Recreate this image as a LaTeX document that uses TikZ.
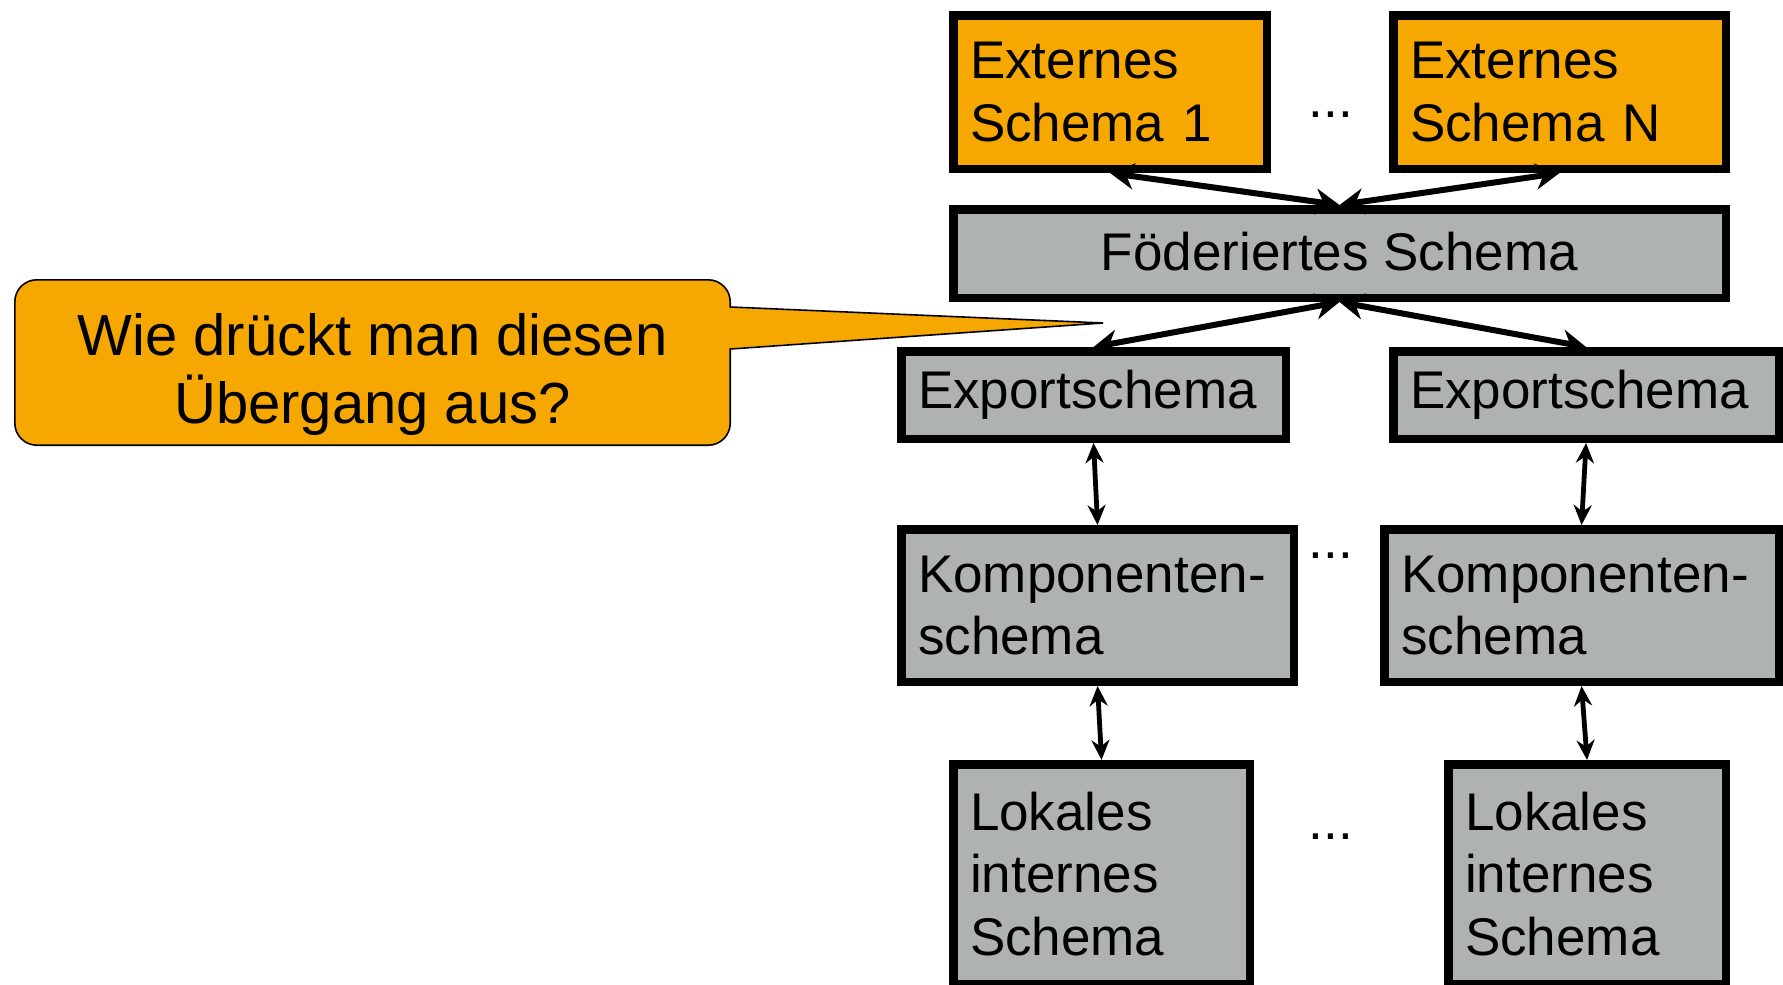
\documentclass[tikz,border=0pt]{standalone}
\usepackage{fontspec}
\setmainfont{Liberation Sans}
\usetikzlibrary{arrows.meta}

\definecolor{schemaorange}{RGB}{247,168,0}
\definecolor{schemagrau}{RGB}{174,179,178}
\newcommand{\schemafont}{\fontsize{26.5}{31.3}\selectfont}
\newcommand{\fragefont}{\fontsize{29}{34}\selectfont}

\begin{document}
\begin{tikzpicture}[
  x=0.5pt, y=-0.5pt,
  kastenbasis/.style={draw, line width=4.25pt, fill=schemagrau, anchor=north west, inner xsep=8.4pt, font=\schemafont},
  schemabox/.style={kastenbasis, align=left},
  extbox/.style={schemabox, fill=schemaorange},
  dotsnode/.style={anchor=base, font=\schemafont, inner sep=0pt},
  bubble/.style={draw, line width=0.8pt, fill=schemaorange, rounded corners=11pt, minimum width=357.7pt, minimum height=82.7pt},
  bubbletext/.style={align=center, font=\fragefont, inner sep=0pt},
  linkarrow/.style={line width=3pt, {Stealth[length=12pt,width=13pt]}-{Stealth[length=12pt,width=13pt]}},
  levelarrow/.style={line width=2.4pt, {Stealth[length=10pt,width=9pt]}-{Stealth[length=10pt,width=9pt]}}
]
\useasboundingbox (0,0) rectangle (1783,985);
\clip (0,0) rectangle (1783,985);

% externe Schemata
\node[extbox, minimum width=156.75pt, minimum height=76.75pt, text width=140pt] (ext1) at (949,11) {Externes\\Schema 1};
\node[extbox, minimum width=166.25pt, minimum height=76.75pt, text width=149.5pt] (extN) at (1389,11) {Externes\\Schema N};
\node[dotsnode] (dotsext) at (1331,117) {...};

% foederiertes Schema
\node[kastenbasis, minimum width=386.25pt, minimum height=44.25pt, text height=19pt, text depth=2.5pt] (fed) at (949,205) {Föderiertes Schema};

% Exportschemata
\node[schemabox, minimum width=192.25pt, minimum height=43.75pt, text width=175.5pt] (exp1) at (897,347) {Exportschema};
\node[schemabox, minimum width=192.75pt, minimum height=43.75pt, text width=176pt] (exp2) at (1389,347) {Exportschema};

% Komponentenschemata
\node[schemabox, minimum width=196.25pt, minimum height=76.25pt, text width=179.5pt] (komp1) at (897,525) {Komponenten-\\schema};
\node[schemabox, minimum width=197.25pt, minimum height=76.25pt, text width=180.5pt] (komp2) at (1380,525) {Komponenten-\\schema};
\node[dotsnode] (dotskomp) at (1331,558) {...};

% lokale interne Schemata
\node[schemabox, minimum width=148.25pt, minimum height=109.75pt, text width=131.5pt] (lok1) at (949,760) {Lokales\\internes\\Schema};
\node[schemabox, minimum width=138.75pt, minimum height=109.75pt, text width=122pt] (lok2) at (1444,760) {Lokales\\internes\\Schema};
\node[dotsnode] (dotslok) at (1331,839) {...};

% Verbindungen
\draw[linkarrow] (ext1.south) -- (fed.north);
\draw[linkarrow] (extN.south) -- (fed.north);
\draw[linkarrow] (fed.south) -- (exp1.north);
\draw[linkarrow] (fed.south) -- (exp2.north);
\draw[levelarrow] (exp1.south) -- (komp1.north);
\draw[levelarrow] (exp2.south) -- (komp2.north);
\draw[levelarrow] (komp1.south) -- (lok1.north);
\draw[levelarrow] (komp2.south) -- (lok2.north);

% Sprechblase
\node[bubble] (frage) at (372.5,362.5) {};
\coordinate (spitze) at (1103,323);
\fill[schemaorange] ([xshift=-3pt,yshift=27.5pt]frage.east) -- (spitze) -- ([xshift=-3pt,yshift=7pt]frage.east) -- cycle;
\draw[line width=0.8pt] ([xshift=-0.4pt,yshift=27.75pt]frage.east) -- (spitze) -- ([xshift=-0.4pt,yshift=6.75pt]frage.east);
\node[bubbletext] (fragetext) at (372.5,374) {Wie drückt man diesen\\Übergang aus?};
\end{tikzpicture}
\end{document}
